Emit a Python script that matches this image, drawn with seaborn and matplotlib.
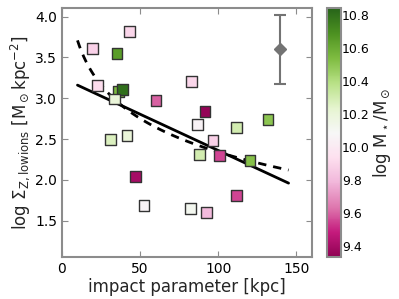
import numpy as np
import matplotlib
matplotlib.use('Agg')
import matplotlib.pyplot as plt
import seaborn as sns

# data
impact = [43.4, 19.4, 35.3, 22.8, 36.2, 38.7, 33.8, 60.2, 82.8, 91.5, 87.0, 111.9,
          131.9, 96.6, 88.1, 100.6, 120.4, 111.7, 82.5, 92.3, 31.3, 41.6, 47.0, 52.5]
log_sigma = [3.82, 3.61, 3.55, 3.16, 3.08, 3.11, 2.99, 2.97, 3.20, 2.84, 2.68, 2.64,
             2.74, 2.48, 2.31, 2.30, 2.24, 1.81, 1.65, 1.60, 2.49, 2.54, 2.04, 1.69]
log_mstar = [9.90, 9.88, 10.65, 9.92, 10.55, 10.80, 10.20, 9.60, 9.90, 9.35, 10.05, 10.30,
             10.50, 9.88, 10.30, 9.55, 10.52, 9.55, 10.12, 9.80, 10.27, 10.20, 9.40, 10.05]

# linear fit (solid) and power-law model (dashed)
fit_x = [10, 145]
fit_slope, fit_icpt = -0.00889, 3.249
model_a, model_b = 5.075, -1.367
model_range = (10, 145)

# typical error bar
err_x, err_y, err_size = 139.7, 3.60, 0.42

vmin, vmax = 9.33, 10.84

sns.set_style('ticks')
plt.rcParams.update({
    'xtick.direction': 'in', 'ytick.direction': 'in',
    'xtick.top': True, 'ytick.right': True,
    'axes.edgecolor': '0.55', 'axes.linewidth': 1.5,
    'xtick.color': '0.55', 'ytick.color': '0.55',
    'xtick.labelcolor': 'black', 'ytick.labelcolor': 'black',
    'xtick.major.size': 4, 'ytick.major.size': 4,
})
plt.rcParams['font.family'] = ['DejaVu Sans']

fig = plt.figure(figsize=(3.99, 2.99), dpi=100)
ax = fig.add_axes([0.155, 0.139, 0.627, 0.833])
cax = fig.add_axes([0.819, 0.139, 0.035, 0.833])

xs = np.array(fit_x)
ax.plot(xs, fit_icpt + fit_slope * xs, color='black', lw=2, zorder=2)
xm = np.linspace(model_range[0], model_range[1], 100)
ax.plot(xm, model_a + model_b * np.log10(xm), color='black', lw=2, ls=(0, (3, 2.5)), zorder=2)

sns.scatterplot(x=impact, y=log_sigma, hue=log_mstar, palette='PiYG',
                hue_norm=(vmin, vmax), marker='s', s=60, edgecolor='0.2',
                linewidth=1, legend=False, ax=ax, zorder=3)

ax.errorbar(err_x, err_y, yerr=err_size, fmt='D', color='0.45', ms=6,
            mec='0.45', capsize=4, elinewidth=1.5, capthick=1.5)

ax.set_xlim(0, 160)
ax.set_ylim(1.05, 4.1)
ax.set_xticks([0, 50, 100, 150])
ax.set_yticks([1.5, 2.0, 2.5, 3.0, 3.5, 4.0])
ax.tick_params(labelsize=10)
ax.set_xlabel('impact parameter [kpc]', fontsize=12, labelpad=1)
ax.set_ylabel(r'log $\Sigma_{\rm Z,lowions}$ [M$_\odot$kpc$^{-2}$]', fontsize=12, labelpad=2)

sm = plt.cm.ScalarMappable(cmap='PiYG', norm=plt.Normalize(vmin, vmax))
cb = fig.colorbar(sm, cax=cax)
cb.set_ticks([9.4, 9.6, 9.8, 10.0, 10.2, 10.4, 10.6, 10.8])
cb.ax.tick_params(labelsize=9, direction='in', length=3, pad=1)
cb.outline.set_edgecolor('0.55')
cb.set_label(r'log M$_\star$/M$_\odot$', fontsize=12, labelpad=1)

fig.savefig('out.png', dpi=100)
